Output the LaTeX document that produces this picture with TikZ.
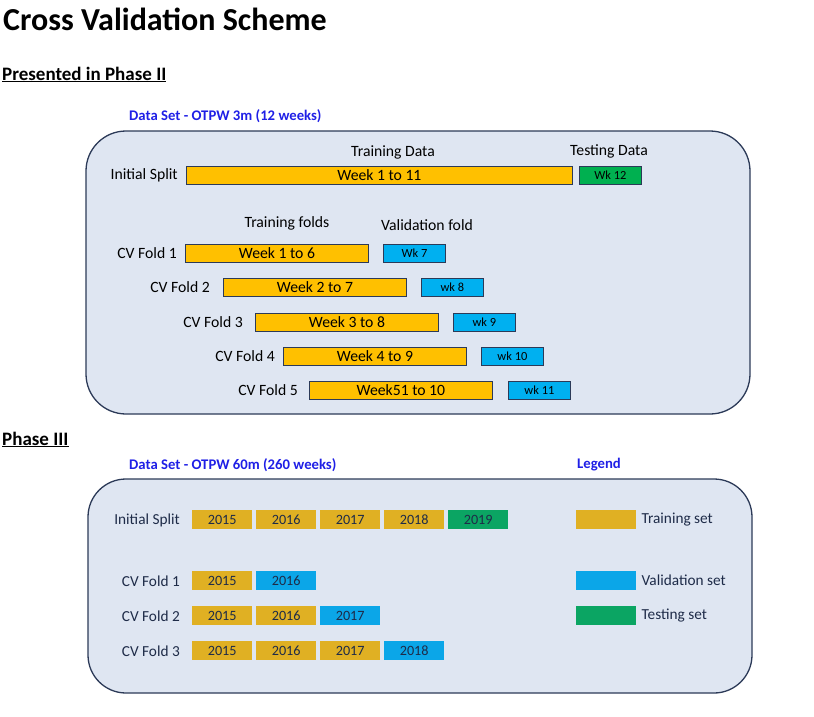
\documentclass[tikz,border=0pt]{standalone}
\usepackage{fontspec}
\setmainfont{Carlito}
\usetikzlibrary{positioning}
\definecolor{panelfill}{HTML}{DFE6F2}
\definecolor{panelline}{HTML}{2C3A58}
\definecolor{setblue}{HTML}{1F1FE6}
\definecolor{trainorange}{HTML}{FFC000}
\definecolor{testgreen}{HTML}{00B050}
\definecolor{valblue}{HTML}{00B0F0}
\definecolor{yeargold}{HTML}{E0B023}
\definecolor{yearblue}{HTML}{0BA6E8}
\definecolor{yeargreen}{HTML}{0BA563}
\definecolor{navytext}{HTML}{1E2B48}

\begin{document}
\begin{tikzpicture}[x=1pt,y=-1pt,
    panel/.style={draw=panelline, fill=panelfill, line width=1.3pt, rounded corners=40pt, inner sep=0pt},
    lbl/.style={font=\fontsize{15.7}{17}\selectfont, inner sep=0pt},
    head/.style={font=\bfseries\fontsize{19}{21}\selectfont, inner sep=0pt, anchor=base west},
    dset/.style={font=\bfseries\fontsize{14.7}{16}\selectfont, text=setblue, inner sep=0pt},
    bar/.style={draw=panelline, line width=0.8pt, inner sep=0pt, minimum height=18pt, anchor=west, font=\fontsize{15.7}{17}\selectfont},
    trainbar/.style={bar, fill=trainorange, minimum width=183pt},
    valbar/.style={bar, fill=valblue, minimum width=62pt, font=\fontsize{12.4}{14}\selectfont},
    year/.style={minimum width=60pt, minimum height=19pt, inner sep=0pt, anchor=west, font=\fontsize{14.2}{16}\selectfont, text=navytext},
    navy/.style={lbl, text=navytext, font=\fontsize{15.3}{17}\selectfont}]
  \useasboundingbox (0,0) rectangle (814,716);

  % headings
  \node[anchor=base west, inner sep=0pt, font=\bfseries\fontsize{32}{34}\selectfont] (title) at (3,30) {Cross Validation Scheme};
  \node[head] (phase2) at (2,80) {\underline{Presented in Phase II}};
  \node[head] (phase3) at (2,445) {\underline{Phase III}};

  % Phase II
  \node[dset, anchor=west] (set2) at (129,116) {Data Set - OTPW 3m (12 weeks)};
  \node[panel, minimum width=664pt, minimum height=283pt] (panel2) at (418,272.5) {};
  \node[lbl] (traindata) at (393,152) {Training Data};
  \node[lbl] (testdata) at (609,151) {Testing Data};
  \node[bar, fill=trainorange, minimum width=386pt] (split) at (186,175) {Week 1 to 11};
  \node[bar, fill=testgreen, minimum width=62pt, font=\fontsize{12.4}{14}\selectfont] (wk12) at (579,175.5) {Wk 12};
  \node[lbl, left=8pt of split] (splitlbl) {Initial Split};
  \node[lbl] (trainfolds) at (287,223) {Training folds};
  \node[lbl] (valfold) at (427,225) {Validation fold};
  \foreach \i/\xo/\yy/\xv/\xl/\wtxt/\vtxt in {1/185/253.5/383/177/{Week 1 to 6}/{Wk 7},
      2/223/287.5/421/210/{Week 2 to 7}/{wk 8},
      3/255/322/453/243/{Week 3 to 8}/{wk 9},
      4/283/356/481/275/{Week 4 to 9}/{wk 10},
      5/309/390/508/298/{Week51 to 10}/{wk 11}}
  {
    \node[trainbar] (tr\i) at (\xo,\yy) {\wtxt};
    \node[valbar] (va\i) at (\xv,\yy) {\vtxt};
    \node[lbl, anchor=east] (cv\i) at (\xl,\yy) {CV Fold \i};
  }

  % Phase III
  \node[dset, anchor=west] (set3) at (129,465) {Data Set - OTPW 60m (260 weeks)};
  \node[dset, anchor=west] (legend) at (577,465) {Legend};
  \node[panel, minimum width=664pt, minimum height=214pt, rounded corners=38pt] (panel3) at (420,586) {};
  \node[navy, anchor=east] (split3) at (180,520) {Initial Split};
  \foreach \k in {1,...,4}
  {
    \pgfmathtruncatemacro{\yr}{2014+\k}
    \node[year, fill=yeargold] (s\k) at ({192+64*(\k-1)},519.5) {\yr};
  }
  \node[year, fill=yeargreen] (s5) at (448,519.5) {2019};
  \foreach \j/\yy in {1/580.5,2/615.5,3/650.5}
  {
    \node[navy, anchor=east] (f\j) at (180,\yy+0.5) {CV Fold \j};
    \foreach \k in {1,...,\j}
    {
      \pgfmathtruncatemacro{\yr}{2014+\k}
      \node[year, fill=yeargold] (f\j-\k) at ({192+64*(\k-1)},\yy) {\yr};
    }
    \pgfmathtruncatemacro{\yr}{2015+\j}
    \node[year, fill=yearblue] (f\j-v) at ({192+64*\j},\yy) {\yr};
  }

  % legend
  \node[year, fill=yeargold] (keytrain) at (576,519.5) {};
  \node[year, fill=yearblue] (keyval) at (576,580.5) {};
  \node[year, fill=yeargreen] (keytest) at (576,615.5) {};
  \node[navy, right=5pt of keytrain] (keytrainlbl) {Training set};
  \node[navy, right=5pt of keyval] (keyvallbl) {Validation set};
  \node[navy, right=5pt of keytest] (keytestlbl) {Testing set};
\end{tikzpicture}
\end{document}
